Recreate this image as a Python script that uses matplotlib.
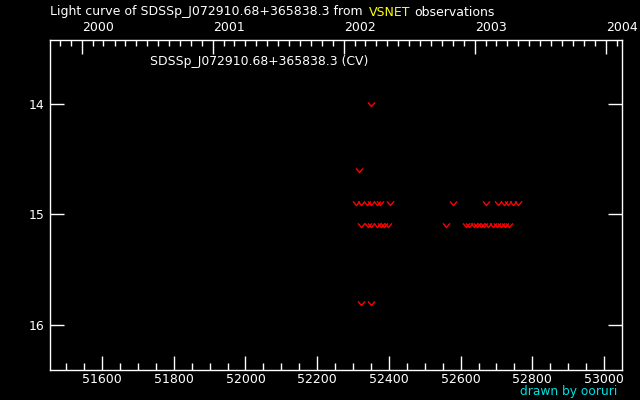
import datetime
import numpy as np
import matplotlib
matplotlib.use("Agg")
import matplotlib.pyplot as plt
from matplotlib.path import Path

# upper limits (fainter-than) observations, MJD and magnitude
mjd_149 = [52309, 52323, 52340, 52351, 52368, 52376, 52404, 52579, 52671,
           52705, 52721, 52732, 52746, 52760]
mjd_151 = [52323, 52343, 52351, 52368, 52379, 52387, 52398, 52560, 52615,
           52624, 52638, 52646, 52657, 52666, 52677, 52691, 52702, 52713,
           52724, 52735]
mjd_other = [52318, 52351, 52321, 52351]
mag_other = [14.6, 14.0, 15.8, 15.8]

mjd = mjd_149 + mjd_151 + mjd_other
mag = [14.9] * len(mjd_149) + [15.1] * len(mjd_151) + mag_other

years = [2000, 2001, 2002, 2003, 2004]
star = "SDSSp_J072910.68+365838.3"


def to_mjd(d):
    return (d - datetime.date(1858, 11, 17)).days


# marcador "v" abierto para limites superiores
vmark = Path([(-1, 0.6), (0, -0.6), (1, 0.6)],
             [Path.MOVETO, Path.LINETO, Path.LINETO])

fig = plt.figure(figsize=(6.4, 4.0), dpi=100, facecolor="black")
ax = fig.add_axes([50 / 640, 30 / 400, 572 / 640, 330 / 400])
ax.set_facecolor("black")

ax.plot(mjd, mag, linestyle="none", marker=vmark, markersize=5,
        markerfacecolor="none", markeredgecolor="red", markeredgewidth=1.0)

ax.set_xlim(51455, 53050)
ax.set_ylim(16.41, 13.42)
ax.set_xticks(np.arange(51600, 53001, 200))
ax.set_xticks(np.arange(51500, 53050, 50), minor=True)
ax.set_yticks([14, 15, 16])
ax.set_yticklabels(["14", "15", "16"])

for s in ax.spines.values():
    s.set_color("white")
    s.set_linewidth(1.0)
ax.tick_params(axis="x", which="major", direction="in", length=10, width=1,
               colors="white", labelsize=9, pad=2, top=False)
ax.tick_params(axis="x", which="minor", direction="in", length=5, width=1,
               colors="white", top=False)
ax.tick_params(axis="y", which="major", direction="in", length=10, width=1,
               colors="white", labelsize=9, pad=4, right=True)

# eje superior en años
ax2 = ax.twiny()
ax2.set_xlim(ax.get_xlim())
ax2.set_xticks([to_mjd(datetime.date(y, 1, 1)) for y in years])
ax2.set_xticklabels([str(y) for y in years], ha="left")
months = [to_mjd(datetime.date(y, m, 1)) for y in range(1999, 2005)
          for m in range(1, 13)]
months = [m for m in months if 51455 < m < 53050]
ax2.set_xticks(months, minor=True)
ax2.tick_params(axis="x", which="major", direction="in", length=10, width=1,
                colors="white", labelsize=9, pad=4)
ax2.tick_params(axis="x", which="minor", direction="in", length=4, width=1,
                colors="white")
for s in ax2.spines.values():
    s.set_visible(False)

fig.text(50 / 640, 1 - 12 / 400, "Light curve of " + star + " from",
         color="white", fontsize=9, va="center", ha="left")
fig.text(369 / 640, 1 - 12 / 400, "VSNET", color="yellow", fontsize=9,
         va="center", ha="left")
fig.text(414 / 640, 1 - 12 / 400, "observations", color="white",
         fontsize=9, va="center", ha="left")
fig.text(150 / 640, 1 - 61 / 400, star + " (CV)", color="white",
         fontsize=8.9, va="center", ha="left")
fig.text(617 / 640, 1 - 392 / 400, "drawn by ooruri", color="#00e0e0",
         fontsize=8.8, va="center", ha="right")

fig.savefig("out.png", dpi=100, facecolor="black")
